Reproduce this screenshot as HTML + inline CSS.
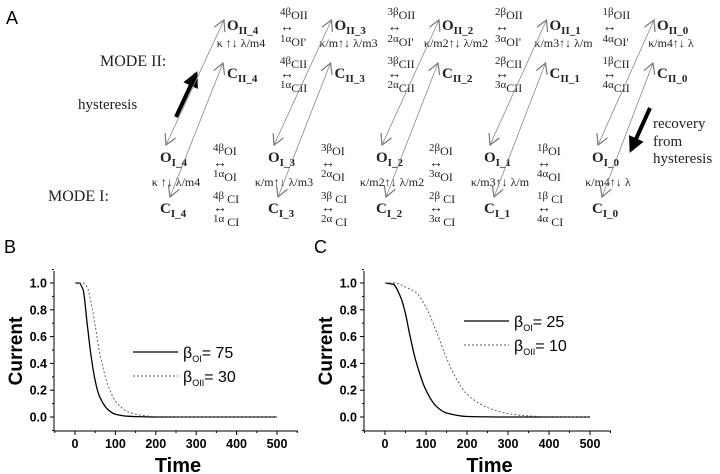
<!DOCTYPE html>
<html><head><meta charset="utf-8"><style>
html,body{margin:0;padding:0;background:#fff;}
svg{display:block;}
.sr{font-family:"Liberation Serif",serif;fill:#222;}
.ss{font-family:"Liberation Sans",sans-serif;fill:#000;}
</style></head><body>
<svg id="fig" width="720" height="474" viewBox="0 0 720 474" xmlns="http://www.w3.org/2000/svg">
<defs>
<marker id="oa" viewBox="0 0 10 10" refX="9" refY="5" markerWidth="12" markerHeight="12" orient="auto-start-reverse" markerUnits="userSpaceOnUse"><path d="M0,0 L9,5 L0,10" fill="none" stroke="#777" stroke-width="1"/></marker>
<marker id="ta" viewBox="0 0 10 10" refX="8" refY="5" markerWidth="16" markerHeight="16" orient="auto" markerUnits="userSpaceOnUse"><path d="M0,0 L10,5 L0,10 Z" fill="#000"/></marker>
</defs>
<g id="panelA">
<text class="ss" x="6" y="24" font-size="18">A</text>
<text class="sr" x="100" y="66" font-size="16">MODE II:</text>
<text class="sr" x="78" y="109" font-size="15">hysteresis</text>
<text class="sr" x="48" y="201" font-size="16">MODE I:</text>
<text class="sr" font-size="15"><tspan x="653" y="128">recovery</tspan><tspan x="653" y="146">from</tspan><tspan x="653" y="163">hysteresis</tspan></text>
<line x1="176" y1="117" x2="196" y2="74" stroke="#000" stroke-width="4" marker-end="url(#ta)"/>
<line x1="650" y1="108" x2="631" y2="150" stroke="#000" stroke-width="4" marker-end="url(#ta)"/>
<g id="schemeG"></g>
</g>
<g id="chartB"></g>
<g id="chartC"></g>
</svg>
<script>
const NS="http://www.w3.org/2000/svg";
function mk(tag,attrs,parent){const e=document.createElementNS(NS,tag);for(const k in attrs)e.setAttribute(k,attrs[k]);parent.appendChild(e);return e;}

// ---- Scheme ----
const cols=[4,3,2,1,0];
const sg=document.getElementById('schemeG');
function node(x,y,main,sub,name){
  const t=mk('text',{x:x,y:y,class:'sr','font-size':15,'font-weight':'bold'},sg);
  
  
  t.textContent=main;
  const s=mk('tspan',{dy:4,'font-size':11},t);s.textContent=sub;
}
function rate(x,y,c,g,sub,name){
  const t=mk('text',{x:x,y:y,class:'sr','font-size':11},sg);
  
  
  t.textContent=c+g;
  const s=mk('tspan',{dy:4,'font-size':12},t);s.textContent=sub;
}
function txt(x,y,s,size,name,anchor){
  const t=mk('text',{x:x,y:y,class:'sr','font-size':size,'text-anchor':anchor||'start'},sg);
  
  
  t.textContent=s;
}
const kII=["κ ↑↓ λ/m4","κ/m↑↓ λ/m3","κ/m2↑↓ λ/m2","κ/m3↑↓ λ/m","κ/m4↑↓ λ"];
cols.forEach((n,i)=>{
  const xII=227+107.5*i, xI=160+108*i;
  node(xII,30,'O','II_'+n,'node-o-ii-'+n);
  node(xII,78,'C','II_'+n,'node-c-ii-'+n);
  node(xI,162,'O','I_'+n,'node-o-i-'+n);
  node(xI,213,'C','I_'+n,'node-c-i-'+n);
  txt(xII+14,47,kII[i],12,'kappa-ii-'+n,'middle');
  txt(xI+16,186,kII[i],12,'kappa-i-'+n,'middle');
  const l1=mk('line',{x1:xI+6,y1:145,x2:xII-3,y2:20,stroke:'#888','stroke-width':0.8,'marker-start':'url(#oa)','marker-end':'url(#oa)'},sg);
  
  
  const l2=mk('line',{x1:xI+10,y1:197,x2:xII-4,y2:63,stroke:'#888','stroke-width':0.8,'marker-start':'url(#oa)','marker-end':'url(#oa)'},sg);
  
  
  if(n>0){
    const a=5-n, tx=xII+53, ux=xI+53;
    rate(tx,15,n,'β','OII','rate-b-oii-'+n);
    txt(tx,31,'↔',14,'arrow-oii-'+n);
    rate(tx,42,a,'α',"OI'",'rate-a-oii-'+n);
    rate(tx,64,n,'β','CII','rate-b-cii-'+n);
    txt(tx,78,'↔',14,'arrow-cii-'+n);
    rate(tx,88,a,'α','CII','rate-a-cii-'+n);
    rate(ux,151,n,'β','OI','rate-b-oi-'+n);
    txt(ux,167,'↔',14,'arrow-oi-'+n);
    rate(ux,177,a,'α','OI','rate-a-oi-'+n);
    rate(ux,199,n,'β',' CI','rate-b-ci-'+n);
    txt(ux,212,'↔',14,'arrow-ci-'+n);
    rate(ux,222,a,'α',' CI','rate-a-ci-'+n);
  }
});

// ---- Chart data ----
const timeB1=[0,10,20,30,40,50,60,80,100,125,150,200,300,500];
const curB1=[1,1,0.95,0.7,0.45,0.27,0.16,0.06,0.02,0.007,0.003,0,0,0];
const timeB2=[0,20,30,40,50,60,70,80,100,130,160,200,300,500];
const curB2=[1,1,0.97,0.85,0.68,0.5,0.36,0.25,0.12,0.04,0.015,0.003,0,0];
const timeC1=[0,20,40,50,60,75,100,125,150,200,300,500];
const curC1=[1,0.99,0.88,0.77,0.62,0.42,0.2,0.08,0.03,0.004,0,0];
const timeC2=[0,25,50,75,100,125,150,175,200,250,300,350,400,500];
const curC2=[1,1,0.97,0.93,0.82,0.64,0.44,0.28,0.17,0.07,0.025,0.008,0.002,0];
const xTicks=[0,100,200,300,400,500];
const yTicks=[0.0,0.2,0.4,0.6,0.8,1.0];
const legB=["75","30"];
const legC=["25","10"];

// monotone cubic path
function smoothPath(px,py){
  const n=px.length, d=[], m=new Array(n);
  for(let i=0;i<n-1;i++)d.push((py[i+1]-py[i])/(px[i+1]-px[i]));
  m[0]=d[0];m[n-1]=d[n-2];
  for(let i=1;i<n-1;i++){m[i]=(d[i-1]*d[i]<=0)?0:2/(1/d[i-1]+1/d[i]);}
  let s='M'+px[0].toFixed(1)+','+py[0].toFixed(1);
  for(let i=0;i<n-1;i++){const h=px[i+1]-px[i];
    s+=' C'+(px[i]+h/3).toFixed(1)+','+(py[i]+m[i]*h/3).toFixed(1)+' '+(px[i+1]-h/3).toFixed(1)+','+(py[i+1]-m[i+1]*h/3).toFixed(1)+' '+px[i+1].toFixed(1)+','+py[i+1].toFixed(1);}
  return s;
}

function chart(g,p){
  const X=v=>p.x0+(v-0)*(p.x500-p.x0)/500;
  const Y=v=>417-v*(417-283)/1;
  const pl=mk('text',{x:p.lab,y:253,class:'ss','font-size':18},g);
  
  
  pl.textContent=p.letter;
  const ax=mk('path',{d:`M${p.ax},271 V431 H${p.axr}`,fill:'none',stroke:'#000','stroke-width':1},g);
  
  
  for(let v=-50;v<=550;v+=50){const xx=X(v);if(xx<p.ax||xx>p.axr)continue;
    const t=mk('line',{x1:xx,y1:431,x2:xx,y2:v%100===0?435:433,stroke:'#000'},g);
    
    }
  for(let v=-0.1;v<=1.11;v+=0.1){const yy=Y(v);
    const t=mk('line',{x1:p.ax,y1:yy,x2:p.ax-(Math.round(v*10)%2===0?4:2),y2:yy,stroke:'#000'},g);
    
    }
  xTicks.forEach(v=>{const t=mk('text',{x:X(v),y:448,class:'ss','font-size':12.5,'font-weight':'bold','text-anchor':'middle'},g);
    
    
    t.textContent=v;});
  yTicks.forEach(v=>{const t=mk('text',{x:p.ax-7,y:Y(v)+4.5,class:'ss','font-size':12.5,'font-weight':'bold','text-anchor':'end'},g);
    
    
    t.textContent=v.toFixed(1);});
  const xt=mk('text',{x:(p.ax+p.axr)/2+2,y:472,class:'ss','font-size':20,'font-weight':'bold','text-anchor':'middle'},g);
  
  
  xt.textContent='Time';
  const yt=mk('text',{x:0,y:0,class:'ss','font-size':19,'font-weight':'bold','text-anchor':'middle',transform:`translate(${p.ax-32},351) rotate(-90)`},g);
  
  
  yt.textContent='Current';
  const s1=mk('path',{d:smoothPath(p.t1.map(X),p.c1.map(Y)),fill:'none',stroke:'#000','stroke-width':1.3,'stroke-linejoin':'round'},g);
  
  
  const s2=mk('path',{d:smoothPath(p.t2.map(X),p.c2.map(Y)),fill:'none',stroke:'#555','stroke-width':0.9,'stroke-dasharray':'2,2'},g);
  
  
  const subs=['OI','OII'];
  [0,1].forEach(k=>{
    const ly=p.ly+k*24;
    const ln=mk('line',{x1:p.lx,y1:ly,x2:p.lx+45,y2:ly,stroke:k?'#555':'#000','stroke-width':k?0.9:1.3,'stroke-dasharray':k?'2,2':'none'},g);
    
    
    const t=mk('text',{x:p.lx+50,y:ly+6,class:'ss','font-size':16},g);
    
    
    t.textContent='β';
    const s=mk('tspan',{dy:4,'font-size':9},t);s.textContent=subs[k];
    const r=mk('tspan',{dy:-4},t);r.textContent='= '+p.leg[k];
  });
}
chart(document.getElementById('chartB'),{letter:'B',lab:4,ax:54,axr:298,x0:75,x500:277,t1:timeB1,c1:curB1,t2:timeB2,c2:curB2,leg:legB,lx:133,ly:352});
chart(document.getElementById('chartC'),{letter:'C',lab:314,ax:364,axr:611,x0:385,x500:590,t1:timeC1,c1:curC1,t2:timeC2,c2:curC2,leg:legC,lx:464,ly:321});
</script>
</body></html>
